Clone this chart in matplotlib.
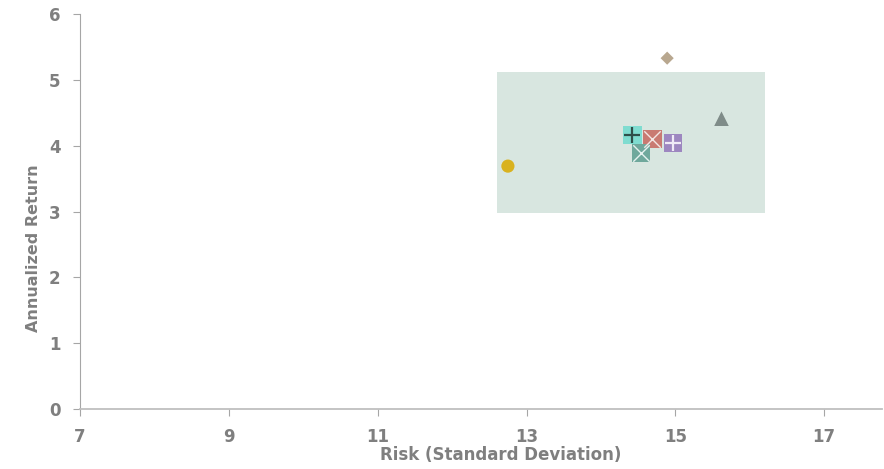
import numpy as np
import matplotlib
matplotlib.use("Agg")
import matplotlib.pyplot as plt
from matplotlib.patches import Rectangle

# risk / return points
names = ["circle", "diamond", "triangle", "sq_plus_teal", "sq_x_red", "sq_plus_purple", "sq_x_teal"]
risk = [12.75, 14.89, 15.62, 14.42, 14.69, 14.97, 14.54]
ret = [3.69, 5.33, 4.41, 4.16, 4.10, 4.04, 3.89]
colors = ["#d9b21f", "#b8a78f", "#7f8c89", "#7fdcd0", "#c97a72", "#9d87c0", "#6fa89c"]
base = ["o", "D", "^", "s", "s", "s", "s"]
over = [None, None, None, "+", "x", "+", "x"]
over_col = [None, None, None, "#2f4f4a", "#f3e6e4", "#efeaf6", "#e6f2ef"]

# shaded band
band_x = [12.6, 16.2]
band_y = [2.97, 5.12]

xticks = [7, 9, 11, 13, 15, 17]
yticks = [0, 1, 2, 3, 4, 5, 6]

fig = plt.figure(figsize=(8.84, 4.69), dpi=100)
ax = fig.add_axes([0.0905, 0.128, 0.9075, 0.842])

ax.add_patch(Rectangle((band_x[0], band_y[0]), band_x[1] - band_x[0], band_y[1] - band_y[0],
                       facecolor="#d8e6e0", edgecolor="none", zorder=1))

sizes = {"o": 90, "D": 45, "^": 110, "s": 180}
for i in range(len(names)):
    ax.scatter(risk[i], ret[i], marker=base[i], s=sizes[base[i]], color=colors[i],
               edgecolors="none", zorder=3)
    if over[i]:
        ax.scatter(risk[i], ret[i], marker=over[i], s=140, color=over_col[i],
                   linewidths=1.6 if over[i] == "+" else 1.0, zorder=4)

gray = "#7f7f7f"
ax.set_xlim(7, 17.78)
ax.set_ylim(0, 6)
ax.set_xticks(xticks)
ax.set_yticks(yticks)
for s in ["top", "right"]:
    ax.spines[s].set_visible(False)
ax.spines["left"].set_color("#a6a6a6")
ax.spines["bottom"].set_color("#bfbfbf")
ax.spines["bottom"].set_linewidth(1.3)
ax.tick_params(axis="both", colors="#a6a6a6", labelcolor=gray, labelsize=12, length=5)
for lab in ax.get_xticklabels() + ax.get_yticklabels():
    lab.set_fontweight("bold")
ax.tick_params(axis="y", pad=9)
ax.tick_params(axis="x", pad=9)
ax.set_xlabel("Risk (Standard Deviation)", fontsize=12, fontweight="bold", color=gray, labelpad=-2)
ax.xaxis.set_label_coords(0.525, -0.095)
ax.set_ylabel("Annualized Return", fontsize=11.5, fontweight="bold", color=gray)
ax.yaxis.set_label_coords(-0.049, 0.408)

fig.savefig("out.png", dpi=100)
